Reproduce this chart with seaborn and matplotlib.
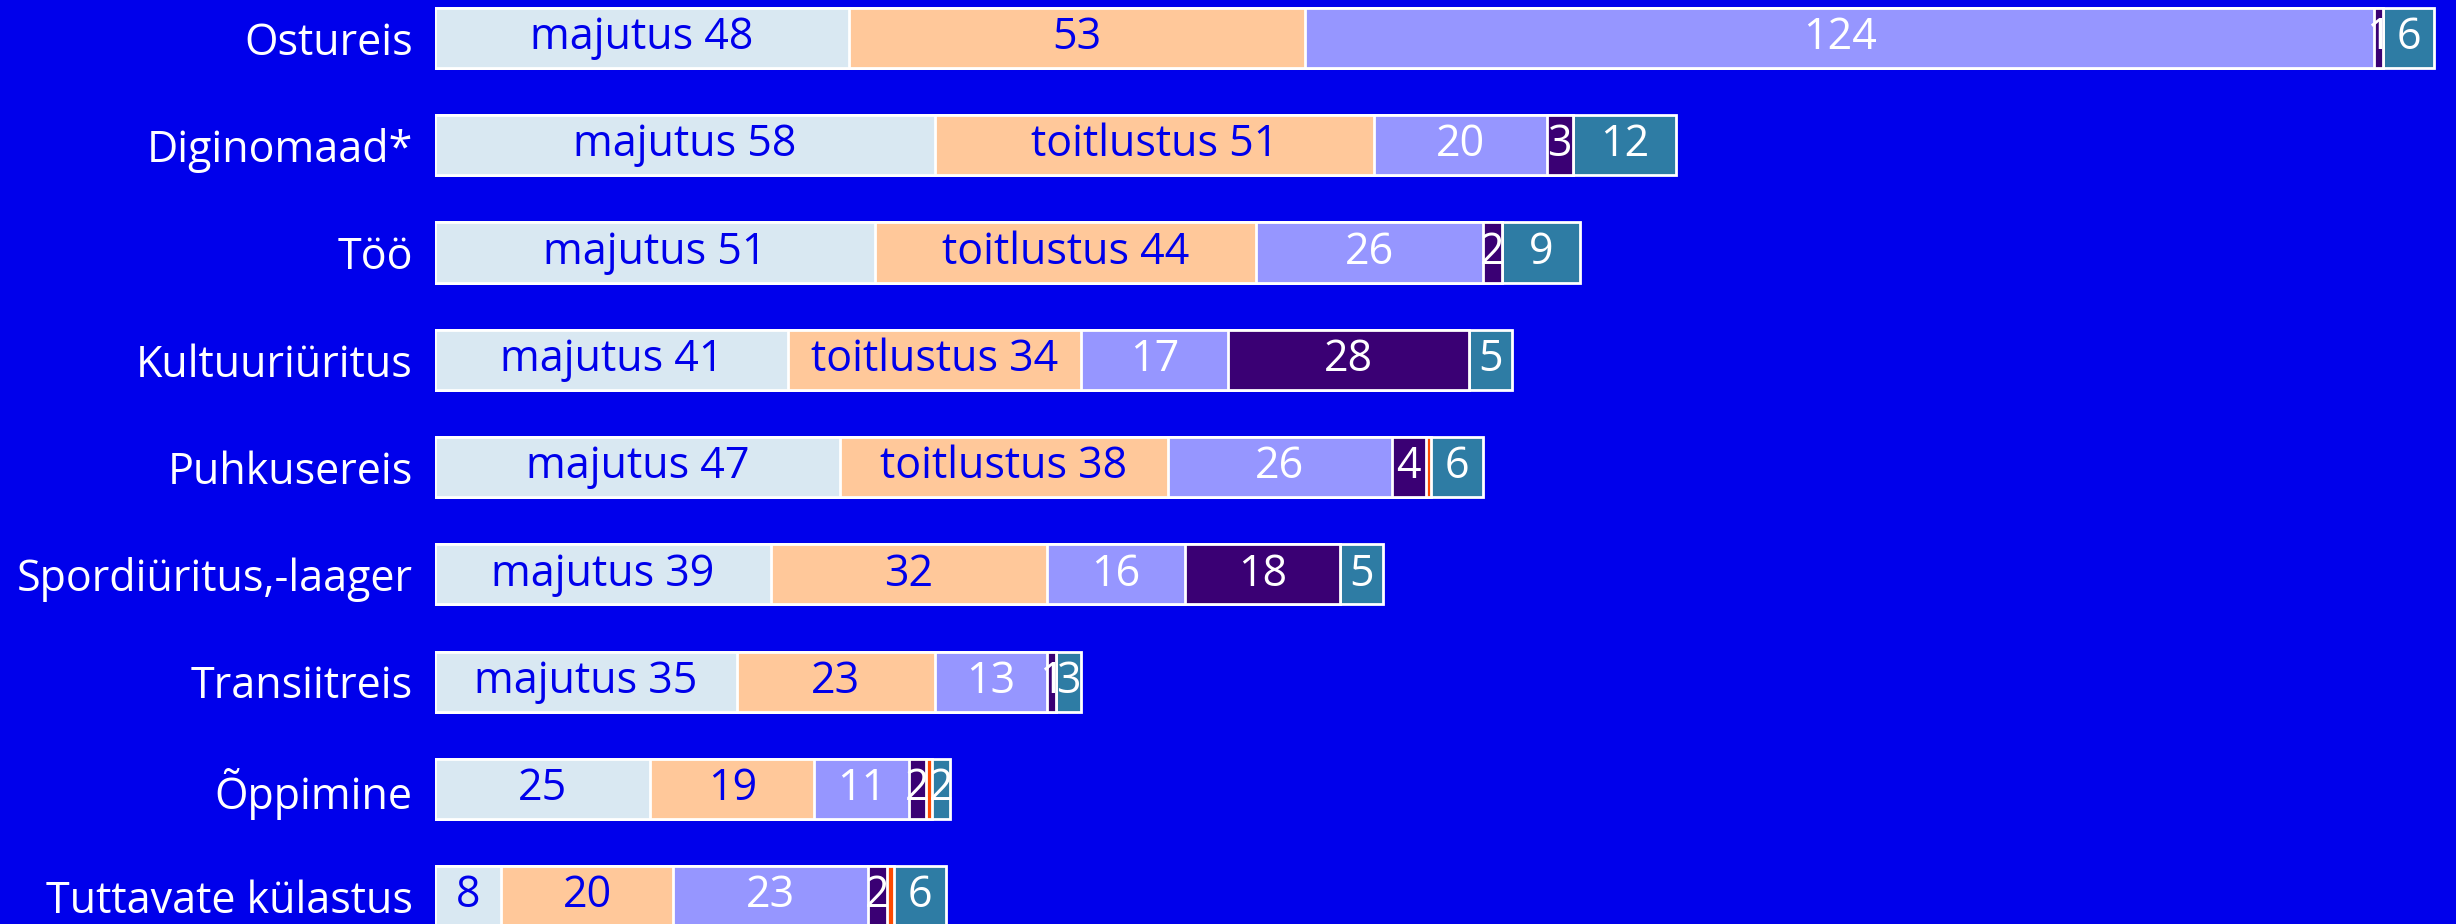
import numpy as np
import pandas as pd
import seaborn as sns
import matplotlib.pyplot as plt

categories = ['Ostureis', 'Diginomaad*', 'Töö', 'Kultuuriüritus', 'Puhkusereis',
              'Spordiüritus,-laager', 'Transiitreis', 'Õppimine', 'Tuttavate külastus']
majutus = [48, 58, 51, 41, 47, 39, 35, 25, 7.7]
toitlustus = [53, 51, 44.3, 34, 38, 32, 23, 19, 19.9]
kolmas = [124, 20, 26.3, 17, 26, 16, 13, 11, 22.6]
neljas = [1, 3, 2.2, 28, 4, 18, 1, 2, 2.2]
viies = [0, 0, 0, 0, 0.6, 0, 0, 0.7, 0.9]
kuues = [6, 12, 9, 5, 6, 5, 3, 2, 6]
# kas segmendi sees on ka nimi
majutus_nimi = [True, True, True, True, True, True, True, False, False]
toitlustus_nimi = [False, True, True, True, True, False, False, False, False]

bg = '#0000EB'
colors = ['#D9E8F2', '#FFC89A', '#9696FF', '#3A0074', '#FF4A00', '#2E7CA4']
text_col = [bg, bg, 'white', 'white', 'white', 'white']

series = [majutus, toitlustus, kolmas, neljas, viies, kuues]
vals = np.array(series, dtype=float)
cum = np.cumsum(vals, axis=0)

sns.set_style("white")
plt.rcParams['font.family'] = ['Open Sans', 'DejaVu Sans']

fig = plt.figure(figsize=(24.56, 9.24), dpi=100, facecolor=bg)
ax = fig.add_axes([435 / 2456, 0, 1 - 435 / 2456, 1])
ax.set_facecolor(bg)

# kumulatiivsed tulbad tagant ettepoole
for i in reversed(range(len(series))):
    df = pd.DataFrame({'kat': categories, 'v': cum[i]})
    sns.barplot(data=df, x='v', y='kat', orient='h', color=colors[i], saturation=1,
                width=0.56, edgecolor='white', linewidth=2, ax=ax)

for i in range(len(series)):
    for j, cat in enumerate(categories):
        v = vals[i, j]
        if v < 1:
            continue
        lab = f'{round(v):d}'
        if i == 0 and majutus_nimi[j]:
            lab = f'majutus {lab}'
        if i == 1 and toitlustus_nimi[j]:
            lab = f'toitlustus {lab}'
        ax.text(cum[i, j] - v / 2, j, lab, ha='center', va='center',
                color=text_col[i], fontsize=31)

ax.set_xlim(0, 234.5)
ax.set_ylim(8.26, -0.354)
ax.set_xlabel('')
ax.set_ylabel('')
ax.set_xticks([])
ax.tick_params(axis='y', length=0, pad=16, labelsize=31, labelcolor='white')
sns.despine(ax=ax, left=True, bottom=True)

fig.savefig('out.png', dpi=100, facecolor=bg)
